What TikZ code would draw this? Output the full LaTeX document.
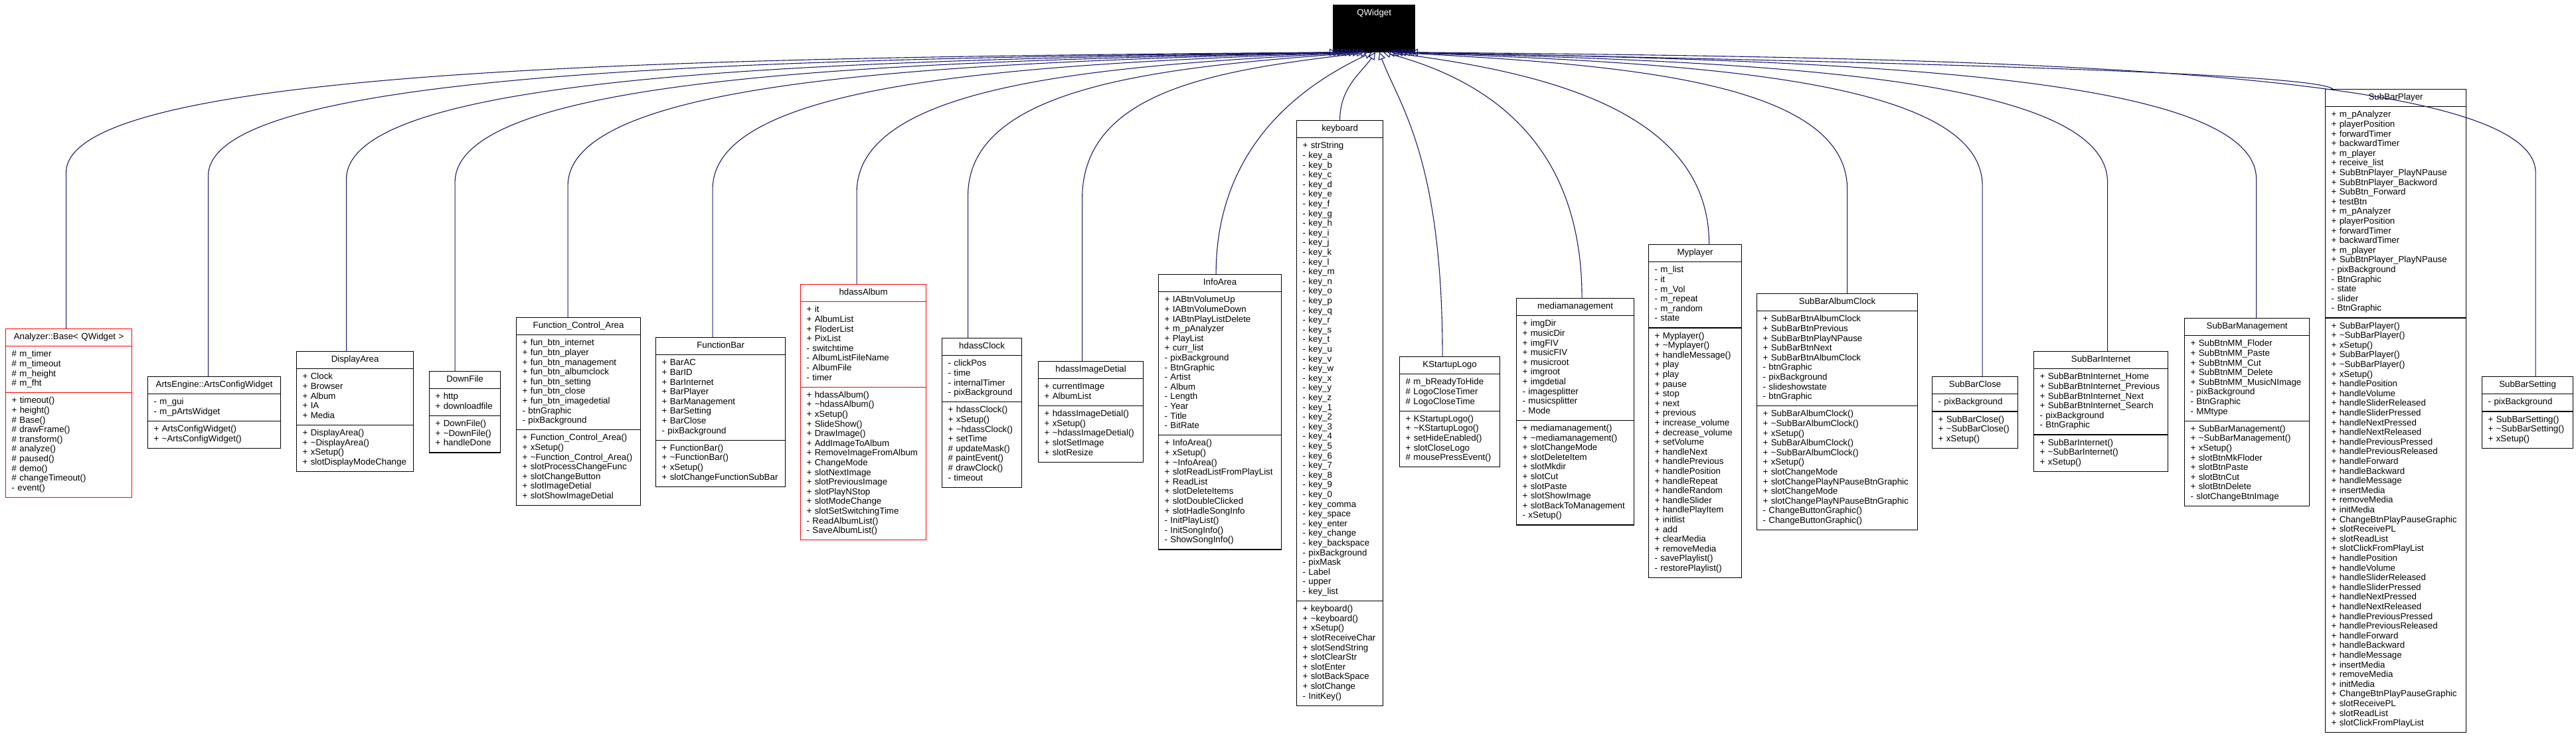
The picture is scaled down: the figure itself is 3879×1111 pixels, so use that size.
\documentclass[tikz,border=0pt]{standalone}
\usepackage{fontspec}
\setmainfont{Liberation Sans}
\usepackage{tikz}
\usetikzlibrary{arrows.meta}
\usetikzlibrary{shapes.multipart}
\definecolor{edgeblue}{HTML}{191970}
\setlength{\parindent}{0pt}
\newcommand{\mem}[1]{\strut#1\par}
\newcommand{\ttl}[1]{\centering\strut#1\par}
\newcommand{\dtor}{\textasciitilde}
\tikzset{cls/.style = {rectangle split, rectangle split parts = 3, draw, line width = 1.2pt,
                       anchor = north west, inner xsep = 9pt, inner ysep = 5.2pt, align = left,
                       font = \fontsize{13.3}{14.6}\selectfont}}
\tikzset{trunc/.style = {cls, draw = red}}
\tikzset{inh/.style = {draw = edgeblue, line width = 1.1pt, -{Triangle[open, length = 11pt, width = 11pt]}}}
\begin{document}
\begin{tikzpicture}[x = 1pt, y = -1pt]
  \useasboundingbox (0, 0) rectangle (3879, 1111);
  \node [cls, fill = black, text = white, text width = 105pt] (qwidget) at (2007, 7) {\ttl{QWidget}
    \nodepart{two}\rule{0pt}{10.6pt}\nodepart{three}\rule{0pt}{10.6pt}};

  \node [trunc, text width = 172pt] (analyzer) at (8, 495) {\ttl{Analyzer::Base< QWidget >}
    \nodepart{two}\mem{\# m\_timer}\mem{\# m\_timeout}\mem{\# m\_height}\mem{\# m\_fht}
    \nodepart{three}\mem{+ timeout()}\mem{+ height()}\mem{\# Base()}\mem{\# drawFrame()}\mem{\# transform()}
    \mem{\# analyze()}\mem{\# paused()}\mem{\# demo()}\mem{\# changeTimeout()}\mem{- event()}};
  \node [cls, text width = 182pt] (artscfg) at (222, 567) {\ttl{ArtsEngine::ArtsConfigWidget}
    \nodepart{two}\mem{- m\_gui}\mem{- m\_pArtsWidget}
    \nodepart{three}\mem{+ ArtsConfigWidget()}\mem{+ \dtor ArtsConfigWidget()}};
  \node [cls, text width = 158pt] (displayarea) at (446, 529) {\ttl{DisplayArea}
    \nodepart{two}\mem{+ Clock}\mem{+ Browser}\mem{+ Album}\mem{+ IA}\mem{+ Media}
    \nodepart{three}\mem{+ DisplayArea()}\mem{+ \dtor DisplayArea()}\mem{+ xSetup()}\mem{+ slotDisplayModeChange}};
  \node [cls, text width = 89pt] (downfile) at (646, 559) {\ttl{DownFile}
    \nodepart{two}\mem{+ http}\mem{+ downloadfile}
    \nodepart{three}\mem{+ DownFile()}\mem{+ \dtor DownFile()}\mem{+ handleDone}};
  \node [cls, text width = 169pt] (fctrlarea) at (777, 478) {\ttl{Function\_Control\_Area}
    \nodepart{two}\mem{+ fun\_btn\_internet}\mem{+ fun\_btn\_player}\mem{+ fun\_btn\_management}
    \mem{+ fun\_btn\_albumclock}\mem{+ fun\_btn\_setting}\mem{+ fun\_btn\_close}\mem{+ fun\_btn\_imagedetial}
    \mem{- btnGraphic}\mem{- pixBackground}
    \nodepart{three}\mem{+ Function\_Control\_Area()}\mem{+ xSetup()}\mem{+ \dtor Function\_Control\_Area()}
    \mem{+ slotProcessChangeFunc}\mem{+ slotChangeButton}\mem{+ slotImageDetial}\mem{+ slotShowImageDetial}};
  \node [cls, text width = 177pt] (functionbar) at (987, 508) {\ttl{FunctionBar}
    \nodepart{two}\mem{+ BarAC}\mem{+ BarID}\mem{+ BarInternet}\mem{+ BarPlayer}\mem{+ BarManagement}
    \mem{+ BarSetting}\mem{+ BarClose}\mem{- pixBackground}
    \nodepart{three}\mem{+ FunctionBar()}\mem{+ \dtor FunctionBar()}\mem{+ xSetup()}\mem{+ slotChangeFunctionSubBar}};
  \node [trunc, text width = 171pt] (hdassalbum) at (1205, 428) {\ttl{hdassAlbum}
    \nodepart{two}\mem{+ it}\mem{+ AlbumList}\mem{+ FloderList}\mem{+ PixList}\mem{- switchtime}
    \mem{- AlbumListFileName}\mem{- AlbumFile}\mem{- timer}
    \nodepart{three}\mem{+ hdassAlbum()}\mem{+ \dtor hdassAlbum()}\mem{+ xSetup()}\mem{+ SlideShow()}
    \mem{+ DrawImage()}\mem{+ AddImageToAlbum}\mem{+ RemoveImageFromAlbum}\mem{+ ChangeMode}
    \mem{+ slotNextImage}\mem{+ slotPreviousImage}\mem{+ slotPlayNStop}\mem{+ slotModeChange}
    \mem{+ slotSetSwitchingTime}\mem{- ReadAlbumList()}\mem{- SaveAlbumList()}};
  \node [cls, text width = 102pt] (hdassclock) at (1418, 509) {\ttl{hdassClock}
    \nodepart{two}\mem{- clickPos}\mem{- time}\mem{- internalTimer}\mem{- pixBackground}
    \nodepart{three}\mem{+ hdassClock()}\mem{+ xSetup()}\mem{+ \dtor hdassClock()}\mem{+ setTime}
    \mem{\# updateMask()}\mem{\# paintEvent()}\mem{\# drawClock()}\mem{- timeout}};
  \node [cls, text width = 140pt] (hdassimg) at (1563, 544) {\ttl{hdassImageDetial}
    \nodepart{two}\mem{+ currentImage}\mem{+ AlbumList}
    \nodepart{three}\mem{+ hdassImageDetial()}\mem{+ xSetup()}\mem{+ \dtor hdassImageDetial()}
    \mem{+ slotSetImage}\mem{+ slotResize}};
  \node [cls, text width = 167pt] (infoarea) at (1744, 413) {\ttl{InfoArea}
    \nodepart{two}\mem{+ IABtnVolumeUp}\mem{+ IABtnVolumeDown}\mem{+ IABtnPlayListDelete}\mem{+ m\_pAnalyzer}
    \mem{+ PlayList}\mem{+ curr\_list}\mem{- pixBackground}\mem{- BtnGraphic}\mem{- Artist}\mem{- Album}
    \mem{- Length}\mem{- Year}\mem{- Title}\mem{- BitRate}
    \nodepart{three}\mem{+ InfoArea()}\mem{+ xSetup()}\mem{+ \dtor InfoArea()}\mem{+ slotReadListFromPlayList}
    \mem{+ ReadList}\mem{+ slotDeleteItems}\mem{+ slotDoubleClicked}\mem{+ slotHadleSongInfo}
    \mem{- InitPlayList()}\mem{- InitSongInfo()}\mem{- ShowSongInfo()}};
  \node [cls, text width = 112pt] (keyboard) at (1952, 181) {\ttl{keyboard}
    \nodepart{two}\mem{+ strString}\mem{- key\_a}\mem{- key\_b}\mem{- key\_c}\mem{- key\_d}\mem{- key\_e}
    \mem{- key\_f}\mem{- key\_g}\mem{- key\_h}\mem{- key\_i}\mem{- key\_j}\mem{- key\_k}\mem{- key\_l}
    \mem{- key\_m}\mem{- key\_n}\mem{- key\_o}\mem{- key\_p}\mem{- key\_q}\mem{- key\_r}\mem{- key\_s}
    \mem{- key\_t}\mem{- key\_u}\mem{- key\_v}\mem{- key\_w}\mem{- key\_x}\mem{- key\_y}\mem{- key\_z}
    \mem{- key\_1}\mem{- key\_2}\mem{- key\_3}\mem{- key\_4}\mem{- key\_5}\mem{- key\_6}\mem{- key\_7}
    \mem{- key\_8}\mem{- key\_9}\mem{- key\_0}\mem{- key\_comma}\mem{- key\_space}\mem{- key\_enter}
    \mem{- key\_change}\mem{- key\_backspace}\mem{- pixBackground}\mem{- pixMask}\mem{- Label}
    \mem{- upper}\mem{- key\_list}
    \nodepart{three}\mem{+ keyboard()}\mem{+ \dtor keyboard()}\mem{+ xSetup()}\mem{+ slotReceiveChar}
    \mem{+ slotSendString}\mem{+ slotClearStr}\mem{+ slotEnter}\mem{+ slotBackSpace}\mem{+ slotChange}
    \mem{- InitKey()}};
  \node [cls, text width = 133pt] (kstartup) at (2107, 537) {\ttl{KStartupLogo}
    \nodepart{two}\mem{\# m\_bReadyToHide}\mem{\# LogoCloseTimer}\mem{\# LogoCloseTime}
    \nodepart{three}\mem{+ KStartupLogo()}\mem{+ \dtor KStartupLogo()}\mem{+ setHideEnabled()}
    \mem{+ slotCloseLogo}\mem{\# mousePressEvent()}};
  \node [cls, text width = 159pt] (mediamgmt) at (2283, 449) {\ttl{mediamanagement}
    \nodepart{two}\mem{+ imgDir}\mem{+ musicDir}\mem{+ imgFIV}\mem{+ musicFIV}\mem{+ musicroot}
    \mem{+ imgroot}\mem{+ imgdetial}\mem{- imagesplitter}\mem{- musicsplitter}\mem{- Mode}
    \nodepart{three}\mem{+ mediamanagement()}\mem{+ \dtor mediamanagement()}\mem{+ slotChangeMode}
    \mem{+ slotDeleteItem}\mem{+ slotMkdir}\mem{+ slotCut}\mem{+ slotPaste}\mem{+ slotShowImage}
    \mem{+ slotBackToManagement}\mem{- xSetup()}};
  \node [cls, text width = 122pt] (myplayer) at (2482, 368) {\ttl{Myplayer}
    \nodepart{two}\mem{- m\_list}\mem{- it}\mem{- m\_Vol}\mem{- m\_repeat}\mem{- m\_random}\mem{- state}
    \nodepart{three}\mem{+ Myplayer()}\mem{+ \dtor Myplayer()}\mem{+ handleMessage()}\mem{+ play}\mem{+ play}
    \mem{+ pause}\mem{+ stop}\mem{+ next}\mem{+ previous}\mem{+ increase\_volume}\mem{+ decrease\_volume}
    \mem{+ setVolume}\mem{+ handleNext}\mem{+ handlePrevious}\mem{+ handlePosition}\mem{+ handleRepeat}
    \mem{+ handleRandom}\mem{+ handleSlider}\mem{+ handlePlayItem}\mem{+ initlist}\mem{+ add}
    \mem{+ clearMedia}\mem{+ removeMedia}\mem{- savePlaylist()}\mem{- restorePlaylist()}};
  \node [cls, text width = 224pt] (sbalbumclock) at (2645, 442) {\ttl{SubBarAlbumClock}
    \nodepart{two}\mem{+ SubBarBtnAlbumClock}\mem{+ SubBarBtnPrevious}\mem{+ SubBarBtnPlayNPause}
    \mem{+ SubBarBtnNext}\mem{+ SubBarBtnAlbumClock}\mem{- btnGraphic}\mem{- pixBackground}
    \mem{- slideshowstate}\mem{- btnGraphic}
    \nodepart{three}\mem{+ SubBarAlbumClock()}\mem{+ \dtor SubBarAlbumClock()}\mem{+ xSetup()}
    \mem{+ SubBarAlbumClock()}\mem{+ \dtor SubBarAlbumClock()}\mem{+ xSetup()}\mem{+ slotChangeMode}
    \mem{+ slotChangePlayNPauseBtnGraphic}\mem{+ slotChangeMode}\mem{+ slotChangePlayNPauseBtnGraphic}
    \mem{- ChangeButtonGraphic()}\mem{- ChangeButtonGraphic()}};
  \node [cls, text width = 111pt] (sbclose) at (2909, 567) {\ttl{SubBarClose}
    \nodepart{two}\mem{- pixBackground}
    \nodepart{three}\mem{+ SubBarClose()}\mem{+ \dtor SubBarClose()}\mem{+ xSetup()}};
  \node [cls, text width = 184pt] (sbinternet) at (3062, 529) {\ttl{SubBarInternet}
    \nodepart{two}\mem{+ SubBarBtnInternet\_Home}\mem{+ SubBarBtnInternet\_Previous}
    \mem{+ SubBarBtnInternet\_Next}\mem{+ SubBarBtnInternet\_Search}\mem{- pixBackground}\mem{- BtnGraphic}
    \nodepart{three}\mem{+ SubBarInternet()}\mem{+ \dtor SubBarInternet()}\mem{+ xSetup()}};
  \node [cls, text width = 170pt] (sbmgmt) at (3289, 479) {\ttl{SubBarManagement}
    \nodepart{two}\mem{+ SubBtnMM\_Floder}\mem{+ SubBtnMM\_Paste}\mem{+ SubBtnMM\_Cut}\mem{+ SubBtnMM\_Delete}
    \mem{+ SubBtnMM\_MusicNImage}\mem{- pixBackground}\mem{- BtnGraphic}\mem{- MMtype}
    \nodepart{three}\mem{+ SubBarManagement()}\mem{+ \dtor SubBarManagement()}\mem{+ xSetup()}
    \mem{+ slotBtnMkFloder}\mem{+ slotBtnPaste}\mem{+ slotBtnCut}\mem{+ slotBtnDelete}\mem{- slotChangeBtnImage}};
  \node [cls, text width = 194pt] (sbplayer) at (3501, 134) {\ttl{SubBarPlayer}
    \nodepart{two}\mem{+ m\_pAnalyzer}\mem{+ playerPosition}\mem{+ forwardTimer}\mem{+ backwardTimer}
    \mem{+ m\_player}\mem{+ receive\_list}\mem{+ SubBtnPlayer\_PlayNPause}\mem{+ SubBtnPlayer\_Backword}
    \mem{+ SubBtn\_Forward}\mem{+ testBtn}\mem{+ m\_pAnalyzer}\mem{+ playerPosition}\mem{+ forwardTimer}
    \mem{+ backwardTimer}\mem{+ m\_player}\mem{+ SubBtnPlayer\_PlayNPause}\mem{- pixBackground}
    \mem{- BtnGraphic}\mem{- state}\mem{- slider}\mem{- BtnGraphic}
    \nodepart{three}\mem{+ SubBarPlayer()}\mem{+ \dtor SubBarPlayer()}\mem{+ xSetup()}\mem{+ SubBarPlayer()}
    \mem{+ \dtor SubBarPlayer()}\mem{+ xSetup()}
    \mem{+ handlePosition}\mem{+ handleVolume}\mem{+ handleSliderReleased}\mem{+ handleSliderPressed}
    \mem{+ handleNextPressed}\mem{+ handleNextReleased}\mem{+ handlePreviousPressed}\mem{+ handlePreviousReleased}
    \mem{+ handleForward}\mem{+ handleBackward}\mem{+ handleMessage}\mem{+ insertMedia}\mem{+ removeMedia}
    \mem{+ initMedia}\mem{+ ChangeBtnPlayPauseGraphic}\mem{+ slotReceivePL}\mem{+ slotReadList}
    \mem{+ slotClickFromPlayList}
    \mem{+ handlePosition}\mem{+ handleVolume}\mem{+ handleSliderReleased}\mem{+ handleSliderPressed}
    \mem{+ handleNextPressed}\mem{+ handleNextReleased}\mem{+ handlePreviousPressed}\mem{+ handlePreviousReleased}
    \mem{+ handleForward}\mem{+ handleBackward}\mem{+ handleMessage}\mem{+ insertMedia}\mem{+ removeMedia}
    \mem{+ initMedia}\mem{+ ChangeBtnPlayPauseGraphic}\mem{+ slotReceivePL}\mem{+ slotReadList}
    \mem{+ slotClickFromPlayList}};
  \node [cls, text width = 119pt] (sbsetting) at (3737, 567) {\ttl{SubBarSetting}
    \nodepart{two}\mem{- pixBackground}
    \nodepart{three}\mem{+ SubBarSetting()}\mem{+ \dtor SubBarSetting()}\mem{+ xSetup()}};

  \draw [inh] ([xshift = -4pt]analyzer.north) -- ++(0, -235) .. controls +(0, -160) and +(-965, 8) .. ([xshift = 6pt]qwidget.south west);
  \draw [inh] ([xshift = -9pt]artscfg.north) -- ++(0, -302) .. controls +(0, -161) and +(-860, 10) .. ([xshift = 12pt]qwidget.south west);
  \draw [inh] ([xshift = -13pt]displayarea.north) -- ++(0, -259) .. controls +(0, -162) and +(-758, 12) .. ([xshift = 18pt]qwidget.south west);
  \draw [inh] ([xshift = -15pt]downfile.north) -- ++(0, -284) .. controls +(0, -163) and +(-679, 14) .. ([xshift = 24pt]qwidget.south west);
  \draw [inh] ([xshift = -16pt]fctrlarea.north) -- ++(0, -198) .. controls +(0, -164) and +(-596, 16) .. ([xshift = 29pt]qwidget.south west);
  \draw [inh] ([xshift = -12pt]functionbar.north) -- ++(0, -223) .. controls +(0, -165) and +(-489, 18) .. ([xshift = 35pt]qwidget.south west);
  \draw [inh] ([xshift = -10pt]hdassalbum.north) -- ++(0, -138) .. controls +(0, -166) and +(-380, 20) .. ([xshift = 41pt]qwidget.south west);
  \draw [inh] ([xshift = -21pt]hdassclock.north) -- ++(0, -214) .. controls +(0, -167) and +(-300, 22) .. ([xshift = 47pt]qwidget.south west);
  \draw [inh] ([xshift = -13pt]hdassimg.north) -- ++(0, -244) .. controls +(0, -168) and +(-216, 26) .. ([xshift = 53pt]qwidget.south west);
  \draw [inh] ([xshift = -6pt]infoarea.north) .. controls +(0, -213) and +(-75, 36) .. ([xshift = 59pt]qwidget.south west);
  \draw [inh] (keyboard.north) .. controls +(0, -50) and +(-20, 30) .. ([xshift = 64pt]qwidget.south west);
  \draw [inh] ([xshift = -11pt]kstartup.north) .. controls +(0, -300) and +(30, 80) .. ([xshift = 70pt]qwidget.south west);
  \draw [inh] ([xshift = 10pt]mediamgmt.north) .. controls +(0, -240) and +(150, 40) .. ([xshift = 76pt]qwidget.south west);
  \draw [inh] ([xshift = 21pt]myplayer.north) .. controls +(0, -200) and +(240, 30) .. ([xshift = 82pt]qwidget.south west);
  \draw [inh] ([xshift = 15pt]sbalbumclock.north) -- ++(0, -157) .. controls +(0, -165) and +(338, 18) .. ([xshift = 88pt]qwidget.south west);
  \draw [inh] ([xshift = 11pt]sbclose.north) -- ++(0, -287) .. controls +(0, -164) and +(438, 16) .. ([xshift = 94pt]qwidget.south west);
  \draw [inh] ([xshift = 10pt]sbinternet.north) -- ++(0, -254) .. controls +(0, -163) and +(530, 14) .. ([xshift = 99pt]qwidget.south west);
  \draw [inh] ([xshift = 14pt]sbmgmt.north) -- ++(0, -209) .. controls +(0, -162) and +(640, 12) .. ([xshift = 105pt]qwidget.south west);
  \draw [inh] ([xshift = -95pt]sbplayer.north) .. controls +(-30, -25) and +(690, 14) .. ([xshift = 111pt]qwidget.south west);
  \draw [inh] ([xshift = 12pt]sbsetting.north) -- ++(0, -307) .. controls +(0, -160) and +(846, 8) .. ([xshift = 117pt]qwidget.south west);
\end{tikzpicture}
\end{document}
